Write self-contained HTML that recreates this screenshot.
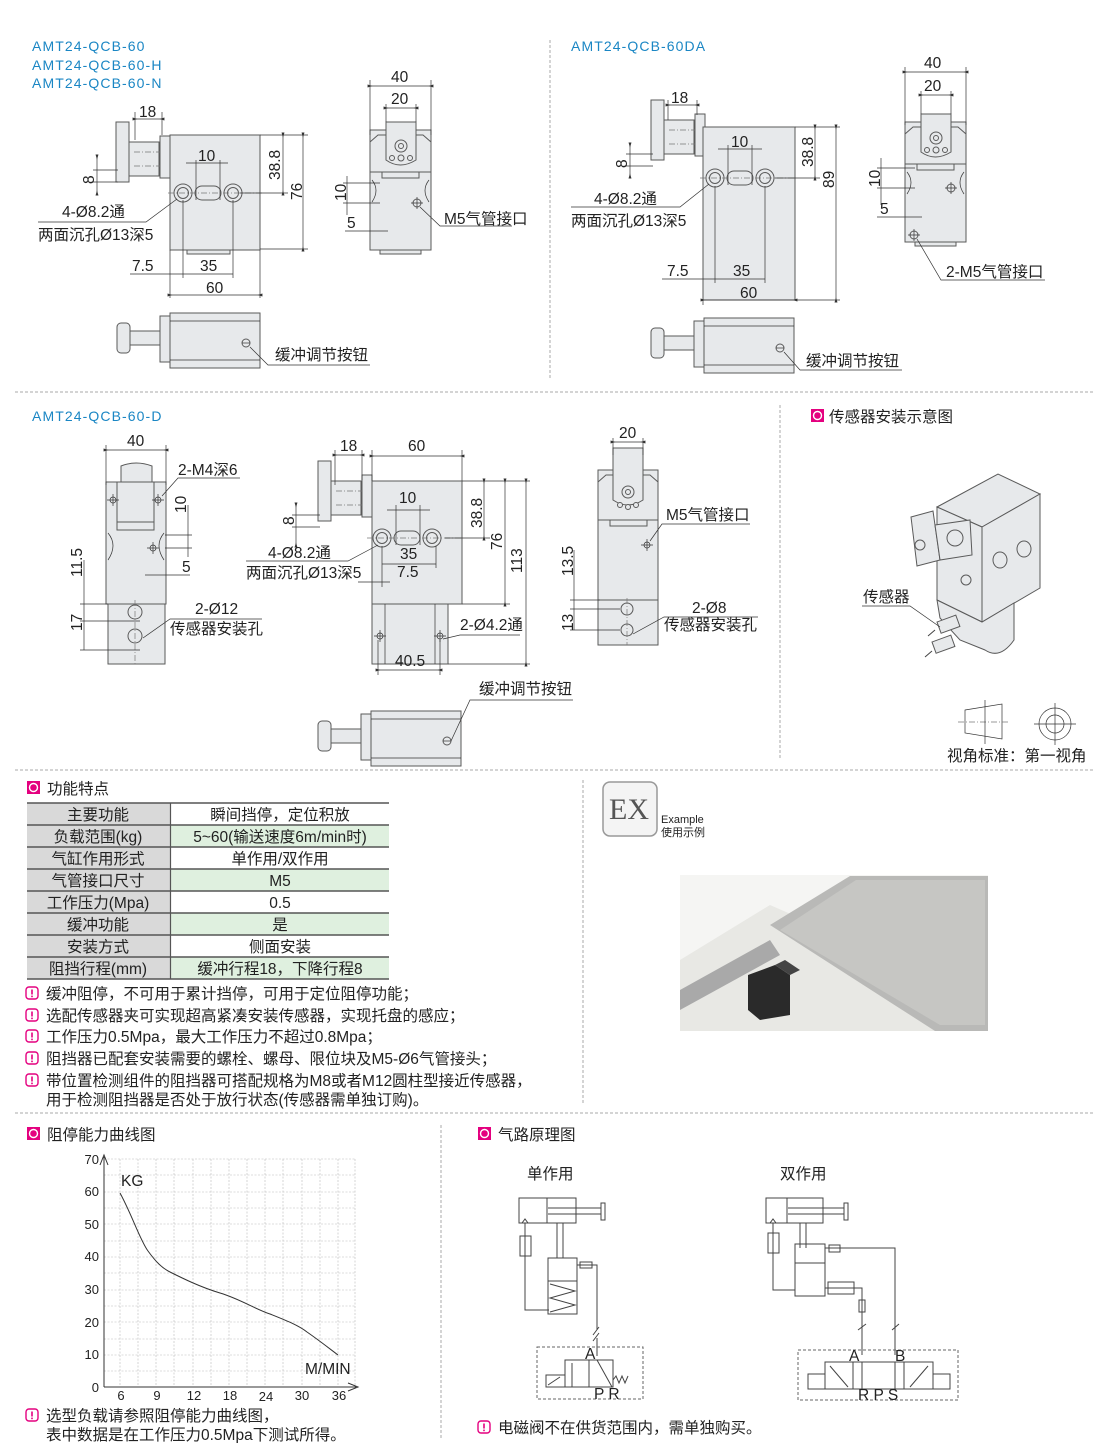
<!DOCTYPE html>
<html><head><meta charset="utf-8"><style>
html,body{margin:0;padding:0;background:#fff}
svg{display:block}
text{font-family:"Liberation Sans","Noto Sans CJK SC",sans-serif;fill:#222}
.p{fill:#e7e9eb;stroke:#5a5a5a;stroke-width:1}
.d{stroke:#333;stroke-width:.7;fill:none}
.dm{stroke:#333;stroke-width:.7;fill:none;marker-start:url(#a);marker-end:url(#a)}
.cl{stroke:#777;stroke-width:.7;fill:none;stroke-dasharray:6 2 1 2}
.sep{stroke:#aaa;stroke-width:1;stroke-dasharray:3 2;fill:none}
.t{font-size:15.5px}
.b{font-size:14px;fill:#1a86c4;letter-spacing:1.1px}
.h{font-size:15.5px}
.g{stroke:#bbb;stroke-width:.6;stroke-dasharray:2 1.5;fill:none}
.ln{stroke:#444;stroke-width:1;fill:none}
</style></head><body>
<svg width="1110" height="1443" viewBox="0 0 1110 1443" xmlns="http://www.w3.org/2000/svg">
<defs>
<marker id="a" viewBox="0 0 10 10" refX="5" refY="5" markerWidth="7" markerHeight="7" orient="auto-start-reverse"><path d="M0,5 L10,2 L10,8z" fill="#333"/></marker>
<g id="icon"><rect x="0" y="0" width="13" height="13" fill="#e4007f"/><circle cx="6.5" cy="6.5" r="4" fill="none" stroke="#fff" stroke-width="1.4"/></g>
<g id="warn"><rect x="1" y="1" width="12" height="12" rx="3" fill="none" stroke="#e4007f" stroke-width="1.4"/><rect x="6.2" y="3.5" width="1.6" height="5" fill="#e4007f"/><rect x="6.2" y="9.6" width="1.6" height="1.6" fill="#e4007f"/></g>
<g id="plunger">
 <rect class="p" x="0" y="0" width="13" height="60"/>
 <rect class="p" x="13" y="20" width="30" height="34"/>
 <rect class="p" x="44" y="14" width="10" height="42"/>
 <line class="cl" x1="18" y1="30" x2="44" y2="30"/><line class="cl" x1="18" y1="44" x2="44" y2="44"/>
</g>
<g id="bottomv">
 <rect class="p" x="0" y="10" width="13" height="30" rx="4"/>
 <rect class="p" x="13" y="18" width="30" height="14"/>
 <rect class="p" x="43" y="3" width="10" height="46"/>
 <rect class="p" x="53" y="0" width="90" height="55"/>
 <line class="d" x1="53" y1="8" x2="143" y2="8"/><line class="d" x1="53" y1="47" x2="143" y2="47"/>
 <circle class="p" cx="129" cy="30" r="4"/><line class="d" x1="125" y1="30" x2="133" y2="30"/>
</g>
<g id="holes">
 <circle class="p" cx="0" cy="0" r="9"/><circle class="p" cx="0" cy="0" r="5.5"/>
 <circle class="p" cx="50" cy="0" r="9"/><circle class="p" cx="50" cy="0" r="5.5"/>
 <rect class="p" x="12" y="-7" width="26" height="14" rx="7"/>
 <line class="cl" x1="-15" y1="0" x2="80" y2="0"/>
</g>
<g id="front">
 <rect class="p" x="0" y="0" width="61" height="120"/>
 <path class="p" d="M0,12 L8,5 L53,5 L61,12 L61,42 L0,42z"/>
 <path class="p" d="M16,-8 L16,30 Q30,40 46,30 L46,-8z"/>
 <circle class="p" cx="31" cy="16" r="6"/><circle class="p" cx="31" cy="16" r="2.5"/>
 <circle class="p" cx="31" cy="28" r="3"/><circle class="p" cx="22" cy="28" r="2.5"/><circle class="p" cx="40" cy="28" r="2.5"/>
 <rect class="p" x="12" y="42" width="37" height="6"/>
 <path class="d" d="M2,50 Q10,60 2,72"/><path class="d" d="M59,50 Q51,60 59,72"/>
 <rect class="p" x="10" y="120" width="41" height="4"/>
</g>
</defs>

<path class="sep" d="M550,40V378 M15,392H1093 M780,405V760 M15,770H1093 M583,780V1105 M15,1113H1093 M441,1125V1440"/>

<!-- ===== Top left ===== -->
<text class="b" x="32" y="51">AMT24-QCB-60</text>
<text class="b" x="32" y="70">AMT24-QCB-60-H</text>
<text class="b" x="32" y="88">AMT24-QCB-60-N</text>
<use href="#plunger" x="116" y="122"/>
<rect class="p" x="170" y="135" width="90" height="115"/>
<rect class="p" x="187" y="250" width="43" height="4"/>
<use href="#holes" x="183" y="193"/>
<text class="t" x="139" y="117">18</text><line class="dm" x1="135" y1="119" x2="162" y2="119"/><path class="d" d="M135,112V140 M162,112V135"/>
<text class="t" x="198" y="161">10</text><line class="d" x1="186" y1="163" x2="228" y2="163"/><path class="d" d="M196,160V200 M220,160V200"/>
<text class="t" transform="translate(280,180) rotate(-90)">38.8</text><line class="dm" x1="283" y1="135" x2="283" y2="193"/>
<text class="t" transform="translate(302,200) rotate(-90)">76</text><line class="dm" x1="303" y1="135" x2="303" y2="249"/><path class="d" d="M260,135H308 M260,249H308 M240,193H288"/>
<text class="t" transform="translate(94,184) rotate(-90)">8</text><line class="dm" x1="97" y1="157" x2="97" y2="193"/><path class="d" d="M93,170H118 M93,182H118"/>
<text class="t" x="62" y="217">4-Ø8.2通</text><path class="d" d="M38,222H146L177,199"/>
<text class="t" x="38" y="240">两面沉孔Ø13深5</text>
<text class="t" x="132" y="271">7.5</text><text class="t" x="200" y="271">35</text><line class="d" x1="130" y1="274" x2="233" y2="274"/><path class="d" d="M170,250V298 M183,200V278 M233,200V278 M260,250V298"/>
<text class="t" x="206" y="293">60</text><line class="dm" x1="170" y1="295" x2="260" y2="295"/>
<use href="#front" x="370" y="130"/>
<text class="t" x="391" y="82">40</text><line class="dm" x1="370" y1="86" x2="431" y2="86"/><path class="d" d="M370,80V135 M431,80V135"/>
<text class="t" x="391" y="104">20</text><line class="dm" x1="386" y1="108" x2="416" y2="108"/><path class="d" d="M386,104V122 M416,104V122"/>
<text class="t" transform="translate(346,201) rotate(-90)">10</text><line class="d" x1="347" y1="176" x2="347" y2="215"/><path class="d" d="M343,183H380 M343,203H380"/>
<text class="t" x="347" y="228">5</text><line class="d" x1="345" y1="231" x2="388" y2="231"/>
<circle class="p" cx="417" cy="203" r="4"/><path class="d" d="M417,197V209 M411,203H423 M420,207L440,226H512"/>
<text class="t" x="444" y="224">M5气管接口</text>
<use href="#bottomv" x="117" y="313"/>
<text class="t" x="275" y="360">缓冲调节按钮</text><path class="d" d="M250,347L268,365H370"/>

<!-- ===== Top right ===== -->
<text class="b" x="571" y="51">AMT24-QCB-60DA</text>
<use href="#plunger" x="651" y="100"/>
<rect class="p" x="703" y="127" width="92" height="173"/>
<use href="#holes" x="715" y="178"/>
<text class="t" x="671" y="103">18</text><line class="dm" x1="668" y1="105" x2="697" y2="105"/><path class="d" d="M668,100V120 M697,100V115"/>
<text class="t" x="731" y="147">10</text><line class="d" x1="718" y1="149" x2="762" y2="149"/><path class="d" d="M728,145V185 M752,145V185"/>
<text class="t" transform="translate(813,167) rotate(-90)">38.8</text><line class="dm" x1="815" y1="127" x2="815" y2="178"/>
<text class="t" transform="translate(834,188) rotate(-90)">89</text><line class="dm" x1="836" y1="127" x2="836" y2="300"/><path class="d" d="M795,127H840 M795,300H840 M775,178H820"/>
<text class="t" transform="translate(627,168) rotate(-90)">8</text><line class="dm" x1="630" y1="145" x2="630" y2="176"/><path class="d" d="M626,154H653 M626,166H653"/>
<text class="t" x="594" y="204">4-Ø8.2通</text><path class="d" d="M571,207H680L709,184"/>
<text class="t" x="571" y="226">两面沉孔Ø13深5</text>
<text class="t" x="667" y="276">7.5</text><text class="t" x="733" y="276">35</text><line class="d" x1="662" y1="279" x2="765" y2="279"/><path class="d" d="M703,300V305 M715,186V283 M765,186V283"/>
<text class="t" x="740" y="298">60</text><line class="dm" x1="703" y1="300" x2="795" y2="300"/>
<use href="#front" x="905" y="122"/>
<text class="t" x="924" y="68">40</text><line class="dm" x1="905" y1="72" x2="966" y2="72"/><path class="d" d="M905,67V125 M966,67V125"/>
<text class="t" x="924" y="91">20</text><line class="dm" x1="921" y1="95" x2="951" y2="95"/><path class="d" d="M921,91V114 M951,91V114"/>
<text class="t" transform="translate(880,187) rotate(-90)">10</text><line class="d" x1="881" y1="158" x2="881" y2="205"/><path class="d" d="M877,168H915 M877,188H915"/>
<text class="t" x="880" y="214">5</text><line class="d" x1="877" y1="217" x2="922" y2="217"/>
<circle class="p" cx="951" cy="188" r="4"/><path class="d" d="M951,182V194 M945,188H957"/>
<circle class="p" cx="914" cy="235" r="4"/><path class="d" d="M914,229V241 M908,235H920 M917,239L941,280H1045"/>
<text class="t" x="946" y="277">2-M5气管接口</text>
<use href="#bottomv" x="651" y="318"/>
<text class="t" x="806" y="366">缓冲调节按钮</text><path class="d" d="M784,352L800,370H902"/>

<!-- ===== Middle D ===== -->
<text class="b" x="32" y="421">AMT24-QCB-60-D</text>
<rect class="p" x="106" y="482" width="60" height="122"/>
<path class="p" d="M121,482V466Q136,460 152,466V482z"/>
<rect class="p" x="117" y="482" width="37" height="40"/>
<rect class="p" x="117" y="522" width="37" height="8"/>
<path class="d" d="M108,533Q118,545 108,560 M164,533Q154,545 164,560"/>
<rect class="p" x="108" y="604" width="57" height="60"/>
<circle class="p" cx="135" cy="612" r="7"/><circle class="p" cx="135" cy="636" r="7"/>
<path class="cl" d="M135,600V664"/>
<g class="d"><circle cx="113" cy="500" r="3"/><circle cx="158" cy="500" r="3"/><circle cx="153" cy="548" r="3"/><path d="M113,494V506 M107,500H119 M158,494V506 M152,500H164 M153,542V554 M147,548H159"/></g>
<text class="t" x="127" y="446">40</text><line class="dm" x1="106" y1="450" x2="166" y2="450"/><path class="d" d="M106,445V485 M166,445V485"/>
<text class="t" x="178" y="475">2-M4深6</text><path class="d" d="M162,496L178,478H240"/>
<text class="t" transform="translate(186,513) rotate(-90)">10</text><line class="d" x1="188" y1="505" x2="188" y2="557"/><path class="d" d="M165,535H192 M165,548H192"/>
<text class="t" x="182" y="572">5</text><line class="d" x1="145" y1="575" x2="190" y2="575"/>
<text class="t" transform="translate(82,577) rotate(-90)">11.5</text><line class="d" x1="84" y1="560" x2="84" y2="650"/><path class="d" d="M80,604H108 M80,621H140 M80,650H140"/>
<text class="t" transform="translate(82,631) rotate(-90)">17</text>
<text class="t" x="195" y="614">2-Ø12</text><text class="t" x="170" y="634">传感器安装孔</text><path class="d" d="M143,638L170,619H262"/>
<use href="#plunger" x="318" y="461"/>
<rect class="p" x="372" y="481" width="90" height="123"/>
<rect class="p" x="372" y="604" width="76" height="60"/>
<path class="d" d="M385,604V664 M435,604V664"/>
<g class="d"><circle cx="380" cy="636" r="3"/><circle cx="440" cy="636" r="3"/><path d="M380,630V642 M374,636H386 M440,630V642 M434,636H446"/></g>
<use href="#holes" x="382" y="538"/>
<text class="t" x="340" y="451">18</text><line class="dm" x1="335" y1="455" x2="362" y2="455"/><path class="d" d="M335,450V485 M362,450V480"/>
<text class="t" x="408" y="451">60</text><line class="dm" x1="372" y1="456" x2="462" y2="456"/><path class="d" d="M372,450V481 M462,450V481"/>
<text class="t" x="399" y="503">10</text><line class="d" x1="387" y1="510" x2="430" y2="510"/><path class="d" d="M396,505V545 M420,505V545"/>
<text class="t" transform="translate(482,528) rotate(-90)">38.8</text><line class="dm" x1="484" y1="481" x2="484" y2="538"/>
<text class="t" transform="translate(502,550) rotate(-90)">76</text><line class="dm" x1="505" y1="481" x2="505" y2="604"/>
<text class="t" transform="translate(522,573) rotate(-90)">113</text><line class="dm" x1="526" y1="481" x2="526" y2="664"/>
<path class="d" d="M462,481H530 M462,604H510 M448,664H530 M445,538H490"/>
<text class="t" transform="translate(294,525) rotate(-90)">8</text><line class="dm" x1="296" y1="505" x2="296" y2="545"/><path class="d" d="M292,515H320 M292,527H320"/>
<text class="t" x="268" y="558">4-Ø8.2通</text><path class="d" d="M246,561H348L378,545"/>
<text class="t" x="246" y="578">两面沉孔Ø13深5</text>
<text class="t" x="400" y="559">35</text><line class="d" x1="382" y1="564" x2="436" y2="564"/>
<text class="t" x="397" y="577">7.5</text><line class="d" x1="358" y1="582" x2="390" y2="582"/><path class="d" d="M382,546V587 M436,546V568"/>
<text class="t" x="460" y="630">2-Ø4.2通</text><path class="d" d="M443,639L460,635H520"/>
<text class="t" x="395" y="666">40.5</text><line class="dm" x1="378" y1="670" x2="440" y2="670"/><path class="d" d="M378,640V675 M440,640V675"/>
<use href="#bottomv" x="318" y="711"/>
<text class="t" x="479" y="694">缓冲调节按钮</text><path class="d" d="M451,741L470,700H573"/>
<rect class="p" x="598" y="470" width="60" height="130"/>
<path class="p" d="M598,482L606,475L650,475L658,482L658,520L598,520z"/>
<path class="p" d="M613,448V500Q628,510 643,500V448z"/>
<circle class="p" cx="628" cy="492" r="6"/><circle class="p" cx="628" cy="492" r="2.5"/>
<circle class="p" cx="620" cy="505" r="2.5"/><circle class="p" cx="636" cy="505" r="2.5"/><circle class="p" cx="628" cy="507" r="2.5"/>
<rect class="p" x="610" y="520" width="37" height="6"/>
<rect class="p" x="598" y="600" width="60" height="45"/>
<circle class="p" cx="627" cy="609" r="6"/><circle class="p" cx="627" cy="630" r="6"/>
<path class="cl" d="M627,598V645"/>
<g class="d"><circle cx="647" cy="545" r="3"/><path d="M647,539V551 M641,545H653"/></g>
<text class="t" x="619" y="438">20</text><line class="dm" x1="613" y1="442" x2="643" y2="442"/><path class="d" d="M613,438V455 M643,438V455"/>
<text class="t" x="666" y="520">M5气管接口</text><path class="d" d="M650,541L662,524H750"/>
<text class="t" transform="translate(573,576) rotate(-90)">13.5</text><line class="d" x1="574" y1="550" x2="574" y2="630"/><path class="d" d="M570,600H600 M570,609H620 M570,630H620"/>
<text class="t" transform="translate(573,631) rotate(-90)">13</text>
<text class="t" x="692" y="613">2-Ø8</text><text class="t" x="664" y="630">传感器安装孔</text><path class="d" d="M633,634L664,617H758"/>

<!-- sensor 3D -->
<use href="#icon" x="811" y="409"/><text class="h" x="829" y="422">传感器安装示意图</text>
<g>
<path class="p" d="M937,507L998,474L1040,494L982,527z"/>
<path class="p" d="M982,527L1040,494L1040,588L982,622z"/>
<path class="p" d="M937,507L982,527L982,622L937,600z"/>
<path class="p" d="M937,600L982,622L1014,603L1014,640Q1000,660 985,650L960,640L940,618z"/>
<path class="p" d="M911,517L933,511L940,560L917,566z"/>
<path class="p" d="M935,525L970,520L972,555L940,560z"/>
<circle class="p" cx="920" cy="545" r="5"/><circle class="p" cx="955" cy="538" r="8"/>
<ellipse class="p" cx="1000" cy="560" rx="7" ry="8"/><ellipse class="p" cx="1024" cy="549" rx="7" ry="8"/>
<circle class="p" cx="966" cy="580" r="5"/>
<rect class="p" x="937" y="622" width="20" height="12" transform="rotate(-20 937 622)"/>
<rect class="p" x="932" y="642" width="20" height="12" transform="rotate(-20 932 642)"/>
<path class="ln" d="M928,636L935,630 M925,657L932,651"/>
</g>
<text class="t" x="863" y="602">传感器</text><path class="d" d="M862,606H910L940,627"/>
<path class="d" d="M965,710L1002,704V739L965,733z"/><path class="cl" d="M958,722H1008"/><path class="d" d="M985,700V744"/>
<circle class="d" cx="1055" cy="724" r="16"/><circle class="d" cx="1055" cy="724" r="9"/><path class="d" d="M1055,703V745 M1034,724H1076"/>
<text class="h" x="947" y="761">视角标准：第一视角</text>

<!-- ===== features ===== -->
<use href="#icon" x="27" y="781"/><text class="h" x="47" y="794">功能特点</text>
<g>
<rect x="27" y="803" width="143" height="176" fill="#d9d9d9"/>
<rect x="171" y="825" width="218" height="22" fill="#dff0df"/>
<rect x="171" y="869" width="218" height="22" fill="#dff0df"/>
<rect x="171" y="913" width="218" height="22" fill="#dff0df"/>
<rect x="171" y="957" width="218" height="22" fill="#dff0df"/>
<path d="M27,803H389 M27,825H389 M27,847H389 M27,869H389 M27,891H389 M27,913H389 M27,935H389 M27,957H389 M27,979H389" stroke="#555" stroke-width="1.4"/>
<path d="M170.5,803V979" stroke="#555" stroke-width="1.2"/>
</g>
<g class="t" text-anchor="middle">
<text x="98" y="820">主要功能</text><text x="280" y="820">瞬间挡停，定位积放</text>
<text x="98" y="842">负载范围(kg)</text><text x="280" y="842">5~60(输送速度6m/min时)</text>
<text x="98" y="864">气缸作用形式</text><text x="280" y="864">单作用/双作用</text>
<text x="98" y="886">气管接口尺寸</text><text x="280" y="886">M5</text>
<text x="98" y="908">工作压力(Mpa)</text><text x="280" y="908">0.5</text>
<text x="98" y="930">缓冲功能</text><text x="280" y="930">是</text>
<text x="98" y="952">安装方式</text><text x="280" y="952">侧面安装</text>
<text x="98" y="974">阻挡行程(mm)</text><text x="280" y="974">缓冲行程18，下降行程8</text>
</g>
<use href="#warn" x="25" y="986"/><text class="t" x="46" y="999">缓冲阻停，不可用于累计挡停，可用于定位阻停功能；</text>
<use href="#warn" x="25" y="1008"/><text class="t" x="46" y="1021">选配传感器夹可实现超高紧凑安装传感器，实现托盘的感应；</text>
<use href="#warn" x="25" y="1029"/><text class="t" x="46" y="1042">工作压力0.5Mpa，最大工作压力不超过0.8Mpa；</text>
<use href="#warn" x="25" y="1051"/><text class="t" x="46" y="1064">阻挡器已配套安装需要的螺栓、螺母、限位块及M5-Ø6气管接头；</text>
<use href="#warn" x="25" y="1073"/><text class="t" x="46" y="1086">带位置检测组件的阻挡器可搭配规格为M8或者M12圆柱型接近传感器，</text>
<text class="t" x="46" y="1105">用于检测阻挡器是否处于放行状态(传感器需单独订购)。</text>

<!-- EX -->
<rect x="603" y="782" width="54" height="54" rx="7" fill="#f4f4f4" stroke="#999" stroke-width="1.5"/>
<text x="609" y="819" style="font-family:'Liberation Serif',serif;font-size:30px;fill:#555">EX</text>
<text x="661" y="823" style="font-size:11px">Example</text><text x="661" y="836" style="font-size:11px">使用示例</text>
<rect x="680" y="875" width="308" height="156" fill="#f5f5f3"/>
<path d="M680,960L770,905L988,1000V1031H680z" fill="#e8e8e4"/>
<path d="M770,925L850,876H988V1031H935z" fill="#b9b9b7"/>
<path d="M780,930L856,880H985V1025H940z" fill="#c6c6c3"/>
<path d="M680,990L770,940L780,955L680,1010z" fill="#a9a9a9"/>
<path d="M748,975L775,965L790,975V1015L760,1020L748,1010z" fill="#2a2a2a"/>
<path d="M775,965L790,975L800,970L785,960z" fill="#444"/>

<!-- ===== chart ===== -->
<use href="#icon" x="27" y="1127"/><text class="h" x="47" y="1140">阻停能力曲线图</text>
<g class="g">
<path d="M104,1159H355 M104,1175H355 M104,1192H355 M104,1208H355 M104,1224H355 M104,1241H355 M104,1257H355 M104,1273H355 M104,1290H355 M104,1306H355 M104,1322H355 M104,1339H355 M104,1355H355 M104,1371H355"/>
<path d="M120,1159V1387 M138,1159V1387 M156,1159V1387 M174,1159V1387 M193,1159V1387 M211,1159V1387 M229,1159V1387 M247,1159V1387 M265,1159V1387 M283,1159V1387 M302,1159V1387 M320,1159V1387 M338,1159V1387 M355,1159V1387"/>
</g>
<path d="M104,1387V1157 M104,1387H356" stroke="#333" stroke-width="1" fill="none"/>
<path d="M100,1165L104,1155L108,1165 M348,1383L358,1387L348,1391" stroke="#333" stroke-width="1" fill="none"/>
<path d="M120,1193C132,1215 140,1240 148,1251C156,1262 162,1268 170,1272C182,1278 200,1287 220,1293C240,1299 255,1309 270,1314C285,1320 298,1325 307,1332C320,1341 330,1349 338,1355" stroke="#333" stroke-width="1" fill="none"/>
<g style="font-size:13px" text-anchor="end">
<text x="99" y="1164">70</text><text x="99" y="1196">60</text><text x="99" y="1229">50</text><text x="99" y="1261">40</text><text x="99" y="1294">30</text><text x="99" y="1327">20</text><text x="99" y="1359">10</text><text x="99" y="1392">0</text>
</g>
<g style="font-size:13px" text-anchor="middle">
<text x="121" y="1400">6</text><text x="157" y="1400">9</text><text x="194" y="1400">12</text><text x="230" y="1400">18</text><text x="266" y="1401">24</text><text x="302" y="1400">30</text><text x="339" y="1400">36</text>
</g>
<text class="t" x="121" y="1186">KG</text><text class="t" x="305" y="1374">M/MIN</text>
<use href="#warn" x="25" y="1408"/><text class="t" x="46" y="1421">选型负载请参照阻停能力曲线图，</text>
<text class="t" x="46" y="1440">表中数据是在工作压力0.5Mpa下测试所得。</text>

<!-- ===== pneumatic ===== -->
<use href="#icon" x="478" y="1127"/><text class="h" x="498" y="1140">气路原理图</text>
<text class="t" x="527" y="1179">单作用</text><text class="t" x="780" y="1179">双作用</text>
<g class="ln" stroke-width="0.9">
<rect x="519" y="1198" width="57" height="25"/><path d="M547,1198V1223 M548,1208H601 M548,1214H601"/><rect x="601" y="1203" width="4" height="17"/>
<path d="M525,1223V1310H549 M522,1223L525,1219L528,1223"/><rect x="520" y="1236" width="11" height="20"/>
<path d="M557,1223V1258 M563,1223V1258"/><rect x="548" y="1258" width="29" height="56"/><path d="M548,1281H577 M550,1284L575,1291L550,1298L575,1305L550,1312"/>
<path d="M577,1265H597V1330 M599,1327L593,1335 M599,1333L593,1341 M597,1338V1356"/><rect x="580" y="1262" width="12" height="6"/>
<rect x="537" y="1347" width="106" height="52" stroke-dasharray="3 2" stroke="#666"/>
<rect x="565" y="1360" width="48" height="27"/><rect x="546" y="1375" width="19" height="12"/><path d="M548,1385L560,1377"/>
<path d="M572,1387V1363 M589,1360V1387 M597,1360L612,1387 M613,1380L616,1376L619,1383L622,1376L625,1383L628,1376"/>
<rect x="766" y="1198" width="57" height="25"/><path d="M787,1198V1223 M788,1208H844 M788,1214H844"/><rect x="844" y="1203" width="4" height="17"/>
<path d="M773,1223V1290H795 M770,1223L773,1219L776,1223"/><rect x="768" y="1233" width="11" height="20"/>
<path d="M800,1223V1248 M806,1223V1248"/><rect x="795" y="1244" width="30" height="52"/><path d="M795,1263H825"/>
<path d="M825,1248H895V1355 M825,1288H862V1355"/><rect x="829" y="1245" width="11" height="7"/><rect x="828" y="1282" width="26" height="12"/><rect x="859" y="1300" width="6" height="12"/>
<path d="M858,1330L866,1324 M892,1330L899,1324"/>
<rect x="798" y="1350" width="160" height="50" stroke-dasharray="3 2" stroke="#666"/>
<rect x="825" y="1362" width="108" height="27"/><rect x="808" y="1374" width="17" height="15"/><rect x="933" y="1374" width="17" height="15"/>
<path d="M853,1362V1389 M862,1362V1389 M895,1362V1389 M904,1362V1389 M830,1366L848,1387 M910,1387L928,1366"/>
</g>
<g class="t">
<text x="585" y="1359">A</text><text x="594" y="1399">P R</text>
<text x="849" y="1361">A</text><text x="895" y="1361">B</text><text x="858" y="1400">R P S</text>
</g>
<use href="#warn" x="477" y="1420"/><text class="t" x="498" y="1433">电磁阀不在供货范围内，需单独购买。</text>
</svg>
</body></html>
